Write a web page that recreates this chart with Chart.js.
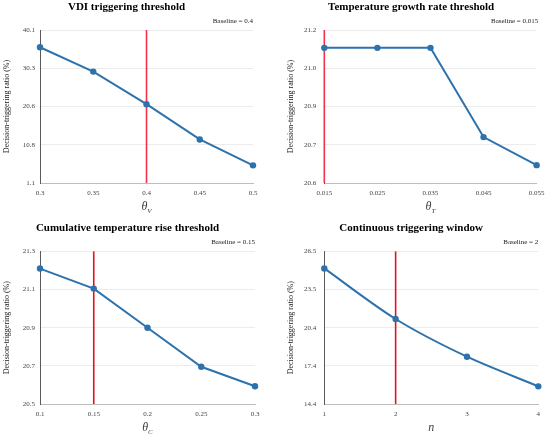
<!DOCTYPE html>
<html>
<head>
<meta charset="utf-8">
<script src="https://cdn.jsdelivr.net/npm/chart.js@4.4.1/dist/chart.umd.min.js"></script>
<style>
  html, body { margin: 0; padding: 0; background: #ffffff; }
  #wrap { position: relative; width: 550px; height: 438px; background: #fff; }
  canvas { position: absolute; }
</style>
</head>
<body>
<div id="wrap">
  <canvas id="c1" width="275" height="219" style="left:0;top:0"></canvas>
  <canvas id="c2" width="275" height="219" style="left:275px;top:0"></canvas>
  <canvas id="c3" width="275" height="219" style="left:0;top:219px"></canvas>
  <canvas id="c4" width="275" height="219" style="left:275px;top:219px"></canvas>
</div>
<script>
// ---- Data ----
const titles = ["VDI triggering threshold", "Temperature growth rate threshold", "Cumulative temperature rise threshold", "Continuous triggering window"];
const baselineTexts = ["Baseline = 0.4", "Baseline = 0.015", "Baseline = 0.15", "Baseline = 2"];
const baselines = [0.4, 0.015, 0.15, 2];
const xSymbols = ["θ", "θ", "θ", "n"];
const xSubscripts = ["V", "T", "C", ""];

const xVals1 = [0.3, 0.35, 0.4, 0.45, 0.5];
const yVals1 = [35.7, 29.5, 21.2, 12.2, 5.6];
const yTickLabels1 = ["1.1", "10.8", "20.6", "30.3", "40.1"];
const yRange1 = [1.1, 40.1];

const xVals2 = [0.015, 0.025, 0.035, 0.045, 0.055];
const yVals2 = [21.13, 21.13, 21.13, 20.78, 20.67];
const yTickLabels2 = ["20.6", "20.7", "20.9", "21.0", "21.2"];
const yRange2 = [20.6, 21.2];

const xVals3 = [0.1, 0.15, 0.2, 0.25, 0.3];
const yVals3 = [21.21, 21.105, 20.9, 20.695, 20.593];
const yTickLabels3 = ["20.5", "20.7", "20.9", "21.1", "21.3"];
const yRange3 = [20.5, 21.3];

const xVals4 = [1, 2, 3, 4];
const yVals4 = [25.15, 21.14, 18.15, 15.8];
const yTickLabels4 = ["14.4", "17.4", "20.4", "23.5", "26.5"];
const yRange4 = [14.4, 26.5];

const allX = [xVals1, xVals2, xVals3, xVals4];
const allY = [yVals1, yVals2, yVals3, yVals4];
const allTickLabels = [yTickLabels1, yTickLabels2, yTickLabels3, yTickLabels4];
const allRanges = [yRange1, yRange2, yRange3, yRange4];

// ---- Styling / layout (not data) ----
const FONT = "'Liberation Serif', 'Times New Roman', serif";
const LINE_COLOR = "#2e72ad";
const redColors = ["#f5304a", "#f5304a", "#e8101a", "#e8101a"];
const tensions = [0, 0, 0, 0.3];
const layouts = [
  { padL: 0, padR: 22, padT: 0, yW: 40, xH: 36, tickPad: 5, titlePad: 2.5 },
  { padL: 9, padR: 11.7, padT: 0, yW: 40.3, xH: 36, tickPad: 8, titlePad: 2.5 },
  { padL: 0, padR: 20, padT: 2.4, yW: 40, xH: 34, tickPad: 5, titlePad: 2.5 },
  { padL: 9, padR: 11.7, padT: 2.4, yW: 40.3, xH: 34, tickPad: 8, titlePad: 2.5 }
];

const xTitlePlugin = {
  id: 'xTitleSub',
  afterDraw(chart, args, opts) {
    const ctx = chart.ctx;
    const ca = chart.chartArea;
    const cx = (ca.left + ca.right) / 2;
    const y = chart.height - opts.bottomOffset;
    ctx.save();
    ctx.fillStyle = '#404040';
    ctx.textBaseline = 'middle';
    ctx.font = "italic 12px " + FONT;
    const w1 = ctx.measureText(opts.symbol).width;
    ctx.font = "italic 7px " + FONT;
    const w2 = opts.sub ? ctx.measureText(opts.sub).width : 0;
    const start = cx - (w1 + w2) / 2;
    ctx.font = "italic 12px " + FONT;
    ctx.textAlign = 'left';
    ctx.fillText(opts.symbol, start, y);
    if (opts.sub) {
      ctx.font = "italic 7px " + FONT;
      ctx.fillText(opts.sub, start + w1, y + 4);
    }
    ctx.restore();
  }
};

function makeChart(i) {
  const L = layouts[i];
  const xs = allX[i], ys = allY[i];
  const [ymin, ymax] = allRanges[i];
  const labels = allTickLabels[i];
  const pts = xs.map((x, k) => ({ x: x, y: ys[k] }));
  const redLine = [{ x: baselines[i], y: ymin }, { x: baselines[i], y: ymax }];
  new Chart(document.getElementById('c' + (i + 1)), {
    type: 'line',
    data: {
      datasets: [
        {
          data: redLine,
          borderColor: redColors[i],
          borderWidth: 1.6,
          pointRadius: 0,
          clip: false,
          order: 2
        },
        {
          data: pts,
          borderColor: LINE_COLOR,
          backgroundColor: LINE_COLOR,
          borderWidth: 2,
          pointRadius: 3.2,
          pointBorderWidth: 0,
          tension: tensions[i],
          clip: false,
          order: 1
        }
      ]
    },
    options: {
      responsive: false,
      animation: false,
      devicePixelRatio: 1,
      layout: { padding: { left: L.padL, right: L.padR, top: L.padT, bottom: 0 } },
      plugins: {
        legend: { display: false },
        tooltip: { enabled: false },
        title: {
          display: true,
          text: titles[i],
          color: '#000',
          font: { family: FONT, size: 11, weight: 'bold', lineHeight: 1.3 },
          padding: { top: 0, bottom: 0 }
        },
        subtitle: {
          display: true,
          text: baselineTexts[i],
          align: 'end',
          color: '#222',
          font: { family: FONT, size: 7, lineHeight: 1.2 },
          padding: { top: 2.2, bottom: 5.1 }
        },
        xTitleSub: {
          symbol: xSymbols[i],
          sub: xSubscripts[i],
          bottomOffset: i < 2 ? 12 : 10
        }
      },
      scales: {
        x: {
          type: 'linear',
          min: xs[0],
          max: xs[xs.length - 1],
          afterBuildTicks: (s) => { s.ticks = xs.map(v => ({ value: v })); },
          afterFit: (s) => { s.height = L.xH; },
          ticks: {
            color: '#444',
            font: { family: FONT, size: 7 },
            padding: 5.5,
            maxRotation: 0,
            autoSkip: false,
            callback: (v) => String(v)
          },
          grid: { display: false, drawTicks: false },
          border: { display: true, color: '#bdbdbd', width: 1 }
        },
        y: {
          type: 'linear',
          min: ymin,
          max: ymax,
          afterBuildTicks: (s) => {
            s.ticks = labels.map((_, k) => ({ value: ymin + k * (ymax - ymin) / (labels.length - 1) }));
          },
          afterFit: (s) => { s.width = L.yW; },
          ticks: {
            color: '#444',
            font: { family: FONT, size: 7 },
            padding: L.tickPad,
            autoSkip: false,
            callback: (v, k) => labels[k]
          },
          grid: { color: '#ececec', lineWidth: 1, drawTicks: false },
          border: { display: true, color: '#5a5a5a', width: 1 },
          title: {
            display: true,
            text: 'Decision-triggering ratio (%)',
            color: '#222',
            font: { family: FONT, size: 8 },
            padding: { top: L.titlePad, bottom: 0 }
          }
        }
      }
    },
    plugins: [xTitlePlugin]
  });
}

for (let i = 0; i < 4; i++) makeChart(i);
</script>
</body>
</html>
